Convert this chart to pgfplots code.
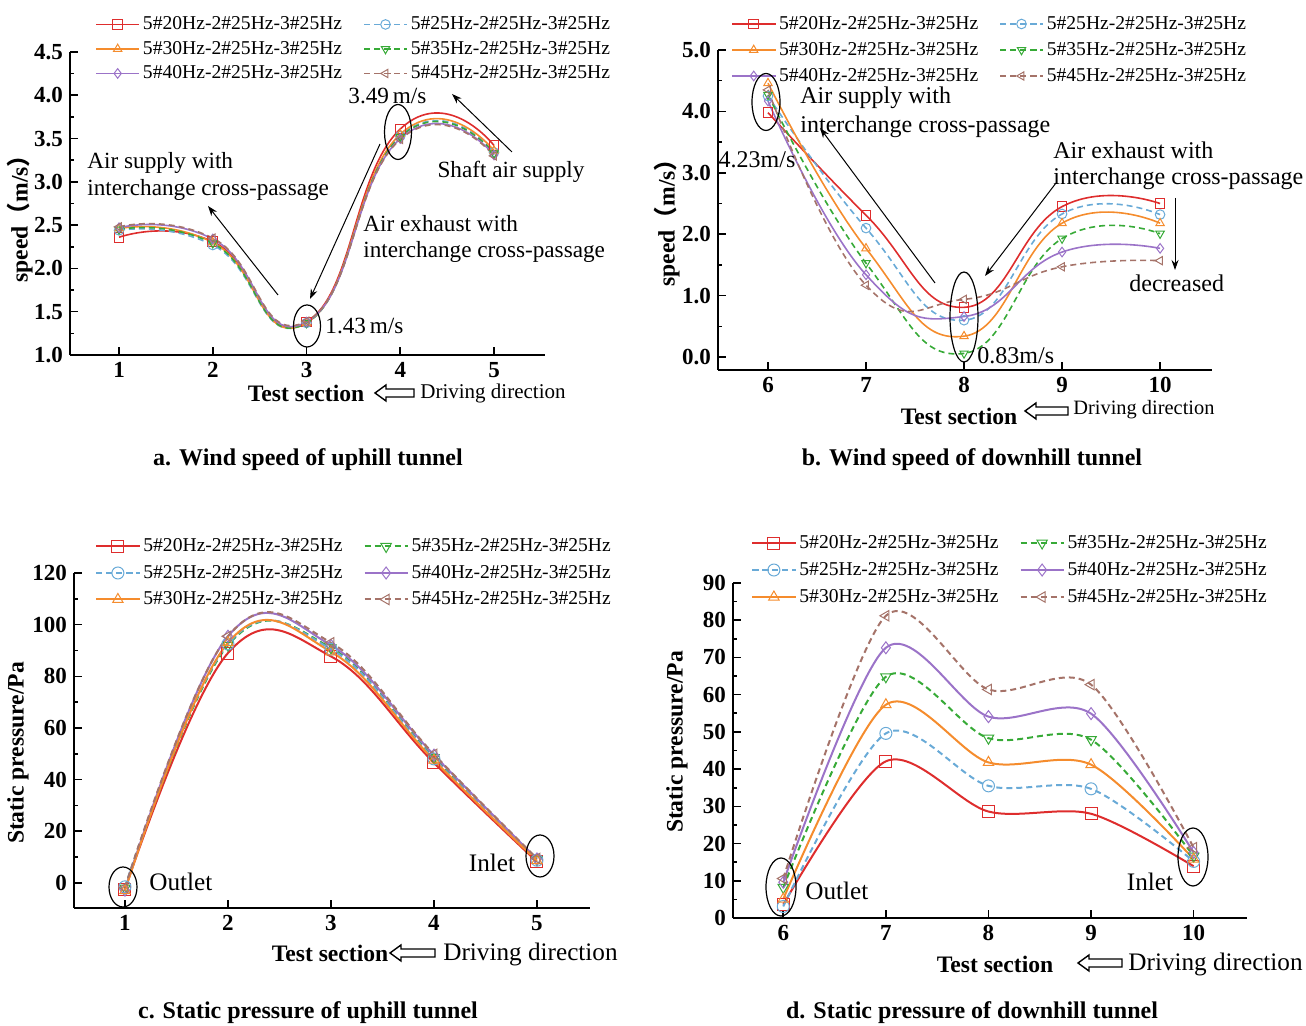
\documentclass[border=0pt]{standalone}
\usepackage{fontspec}
\setmainfont{Liberation Serif}
\newfontfamily\cjk{Noto Sans CJK SC}
\usepackage{pgfplots}
\pgfplotsset{compat=1.18}
\usetikzlibrary{arrows.meta}
\definecolor{cR}{RGB}{222,45,45}
\definecolor{cB}{RGB}{105,170,215}
\definecolor{cO}{RGB}{245,140,45}
\definecolor{cG}{RGB}{55,170,55}
\definecolor{cP}{RGB}{155,115,200}
\definecolor{cN}{RGB}{165,115,105}
\newcommand\tickf{\bfseries\fontsize{11.5}{12}\selectfont}
\newcommand\legf{\fontsize{9.8}{11}\selectfont}
\newcommand\annA{\fontsize{11.6}{13}\selectfont}
\newcommand\annB{\fontsize{12}{13}\selectfont}
\newcommand\annC{\fontsize{12.6}{14}\selectfont}
\newcommand\labf{\bfseries\fontsize{11.8}{13}\selectfont}
\newcommand\capf{\bfseries\fontsize{12}{13}\selectfont}
\pgfplotsset{
  myax/.style={scale only axis, anchor=south west, axis lines=left,
    axis line style={-, line width=0.9pt},
    tick style={line width=0.8pt, black}, major tick length=4pt, minor tick length=2pt,
    tick align=inside, minor y tick num=1, clip=false,
    ticklabel style={font=\tickf}, /pgf/number format/assume math mode=true,
    legend columns=2, legend cell align=left,
    legend style={draw=none, fill=none, font=\legf, anchor=west, inner sep=0pt,
      nodes={inner sep=1.5pt, text height=7pt, text depth=1.5pt},
      /tikz/every even column/.append style={column sep=9pt}},
    legend image code/.code={\draw[mark repeat=2,mark phase=2] plot coordinates {(0pt,0pt)(10.75pt,0pt)(21.5pt,0pt)};},
  },
  s20/.style={color=cR, solid, mark=square, mark options={solid, fill=white, line width=0.5pt}},
  s25/.style={color=cB, dash pattern=on 3pt off 2pt, mark=o, mark options={solid, fill=white, line width=0.5pt}},
  s30/.style={color=cO, solid, mark=triangle, mark options={solid, fill=white, line width=0.5pt}},
  s35/.style={color=cG, dash pattern=on 3pt off 2pt, mark=triangle, mark options={solid, fill=white, line width=0.5pt, rotate=180}},
  s40/.style={color=cP, solid, mark=diamond, mark options={solid, fill=white, line width=0.5pt}},
  s45/.style={color=cN, dash pattern=on 3pt off 2pt, mark=triangle, mark options={solid, fill=white, line width=0.5pt, rotate=90}},
}
\newcommand{\harrow}[3]{\draw[line width=0.7pt] (#1,{1026-(#3)}) -- ({#1+11},{1026-(#3)+8}) -- ({#1+11},{1026-(#3)+4}) -- (#2,{1026-(#3)+4}) -- (#2,{1026-(#3)-4}) -- ({#1+11},{1026-(#3)-4}) -- ({#1+11},{1026-(#3)-8}) -- cycle;}
\begin{document}
\begin{tikzpicture}
\useasboundingbox (0,0) rectangle (653pt,513pt);
% ---------------- panel a
\begin{axis}[myax, at={(35pt,335.5pt)}, width=237.5pt, height=151.5pt,
  xmin=0.477, xmax=5.544, ymin=1, ymax=4.5, xtick={1,2,3,4,5}, ytick={1,1.5,2,2.5,3,3.5,4,4.5},
  yticklabel style={/pgf/number format/.cd, fixed, fixed zerofill, precision=1},
  legend style={at={(axis description cs:0.0526,1.01)}, row sep=0.75pt},
  every axis plot/.append style={smooth, tension=0.9, line width=0.8pt, mark size=2.4pt}]
\addplot[s20] coordinates {(1,2.36)(2,2.31)(3,1.38)(4,3.61)(5,3.42)};
\addlegendentry{5\#20Hz-2\#25Hz-3\#25Hz}
\addplot[s25] coordinates {(1,2.44)(2,2.27)(3,1.37)(4,3.53)(5,3.34)};
\addlegendentry{5\#25Hz-2\#25Hz-3\#25Hz}
\addplot[s30] coordinates {(1,2.46)(2,2.30)(3,1.37)(4,3.55)(5,3.36)};
\addlegendentry{5\#30Hz-2\#25Hz-3\#25Hz}
\addplot[s35] coordinates {(1,2.45)(2,2.29)(3,1.37)(4,3.52)(5,3.33)};
\addlegendentry{5\#35Hz-2\#25Hz-3\#25Hz}
\addplot[s40] coordinates {(1,2.47)(2,2.34)(3,1.38)(4,3.50)(5,3.31)};
\addlegendentry{5\#40Hz-2\#25Hz-3\#25Hz}
\addplot[s45] coordinates {(1,2.48)(2,2.35)(3,1.39)(4,3.49)(5,3.30)};
\addlegendentry{5\#45Hz-2\#25Hz-3\#25Hz}
\end{axis}
% ---------------- panel b
\begin{axis}[myax, at={(359pt,328pt)}, width=247pt, height=160pt,
  xmin=5.49, xmax=10.53, ymin=-0.21, ymax=5, xtick={6,7,8,9,10}, ytick={0,1,2,3,4,5},
  yticklabel style={/pgf/number format/.cd, fixed, fixed zerofill, precision=1},
  legend style={at={(axis description cs:0.0263,1.0)}, row sep=1.5pt},
  every axis plot/.append style={smooth, tension=0.8, line width=0.8pt, mark size=2.4pt}]
\addplot[s20] coordinates {(6,3.98)(7,2.31)(8,0.81)(9,2.45)(10,2.50)};
\addlegendentry{5\#20Hz-2\#25Hz-3\#25Hz}
\addplot[s25] coordinates {(6,4.25)(7,2.10)(8,0.60)(9,2.33)(10,2.32)};
\addlegendentry{5\#25Hz-2\#25Hz-3\#25Hz}
\addplot[s30] coordinates {(6,4.46)(7,1.77)(8,0.34)(9,2.18)(10,2.18)};
\addlegendentry{5\#30Hz-2\#25Hz-3\#25Hz}
\addplot[s35] coordinates {(6,4.27)(7,1.53)(8,0.06)(9,1.93)(10,2.01)};
\addlegendentry{5\#35Hz-2\#25Hz-3\#25Hz}
\addplot[s40] coordinates {(6,4.17)(7,1.34)(8,0.66)(9,1.71)(10,1.77)};
\addlegendentry{5\#40Hz-2\#25Hz-3\#25Hz}
\addplot[s45] coordinates {(6,4.35)(7,1.17)(8,0.94)(9,1.47)(10,1.57)};
\addlegendentry{5\#45Hz-2\#25Hz-3\#25Hz}
\end{axis}
% ---------------- panel c
\begin{axis}[myax, at={(37pt,59pt)}, width=258pt, height=167.5pt,
  xmin=0.505, xmax=5.515, ymin=-9.7, ymax=120, xtick={1,2,3,4,5}, ytick={0,20,40,60,80,100,120},
  legend style={at={(axis description cs:0.0407,1.0)}, row sep=1.75pt},
  every axis plot/.append style={smooth, tension=0.68, line width=1pt, mark size=3pt}]
\addplot[s20] coordinates {(1,-2.5)(2,89.0)(3,87.7)(4,46.5)(5,8.2)};
\addlegendentry{5\#20Hz-2\#25Hz-3\#25Hz}
\addplot[s35] coordinates {(1,-2.0)(2,92.0)(3,91.0)(4,48.5)(5,9.0)};
\addlegendentry{5\#35Hz-2\#25Hz-3\#25Hz}
\addplot[s25] coordinates {(1,-1.5)(2,92.5)(3,90.5)(4,48.0)(5,8.8)};
\addlegendentry{5\#25Hz-2\#25Hz-3\#25Hz}
\addplot[s40] coordinates {(1,-2.8)(2,95.5)(3,92.0)(4,49.5)(5,9.3)};
\addlegendentry{5\#40Hz-2\#25Hz-3\#25Hz}
\addplot[s30] coordinates {(1,-3.0)(2,93.0)(3,89.5)(4,47.5)(5,8.6)};
\addlegendentry{5\#30Hz-2\#25Hz-3\#25Hz}
\addplot[s45] coordinates {(1,-1.8)(2,95.5)(3,93.0)(4,49.8)(5,9.5)};
\addlegendentry{5\#45Hz-2\#25Hz-3\#25Hz}
\end{axis}
% ---------------- panel d
\begin{axis}[myax, at={(366.5pt,54pt)}, width=257pt, height=167.5pt,
  xmin=5.51, xmax=10.52, ymin=0, ymax=90, xtick={6,7,8,9,10}, ytick={0,10,20,30,40,50,60,70,80,90},
  legend style={at={(axis description cs:0.035,1.0388)}, row sep=2pt},
  every axis plot/.append style={smooth, line width=1pt, mark size=3pt}]
\addplot[s20] coordinates {(6,3.6)(7,42.1)(8,28.6)(9,28.0)(10,13.9)};
\addlegendentry{5\#20Hz-2\#25Hz-3\#25Hz}
\addplot[s35] coordinates {(6,8.2)(7,64.8)(8,48.3)(9,47.9)(10,16.6)};
\addlegendentry{5\#35Hz-2\#25Hz-3\#25Hz}
\addplot[s25] coordinates {(6,3.1)(7,49.6)(8,35.5)(9,34.7)(10,15.2)};
\addlegendentry{5\#25Hz-2\#25Hz-3\#25Hz}
\addplot[s40] coordinates {(6,9.6)(7,72.6)(8,54.1)(9,54.9)(10,17.6)};
\addlegendentry{5\#40Hz-2\#25Hz-3\#25Hz}
\addplot[s30] coordinates {(6,5.1)(7,57.3)(8,41.8)(9,41.2)(10,15.8)};
\addlegendentry{5\#30Hz-2\#25Hz-3\#25Hz}
\addplot[s45] coordinates {(6,10.6)(7,81.2)(8,61.4)(9,62.7)(10,18.9)};
\addlegendentry{5\#45Hz-2\#25Hz-3\#25Hz}
\end{axis}
% ---------------- annotations (pixel coordinates, y from top)
\begin{scope}[x=0.5pt,y=0.5pt]
\tikzset{ann/.style={-{Stealth[length=5pt,width=3.5pt]}, line width=0.5pt}, ell/.style={line width=0.6pt}}
% panel a
\node[font=\annA, anchor=west, inner sep=0pt] at (87,{1026-163}) {Air supply with};
\node[font=\annA, anchor=west, inner sep=0pt] at (87,{1026-190}) {interchange cross-passage};
\node[font=\annA, anchor=west, inner sep=0pt] at (363,{1026-224}) {Air exhaust with};
\node[font=\annA, anchor=west, inner sep=0pt] at (363,{1026-252}) {interchange cross-passage};
\node[font=\annA, inner sep=0pt] at (511,{1026-172}) {Shaft air supply};
\node[font=\annA, anchor=west, inner sep=0pt] at (348,{1026-96}) {3.49\,m/s};
\node[font=\annA, anchor=west, inner sep=0pt] at (325,{1026-326}) {1.43\,m/s};
\draw[ann] (278,{1026-295}) -- (208,{1026-206});
\draw[ann] (380,{1026-144}) -- (310,{1026-299});
\draw[ann] (512,{1026-152}) -- (452,{1026-94});
\draw[ell] (398,{1026-132}) ellipse [x radius=6.75pt, y radius=13.75pt];
\draw[ell] (307,{1026-326}) ellipse [x radius=6.75pt, y radius=10.5pt];
\node[font=\labf, rotate=90] at (20,{1026-213}) {speed{\cjk （}m/s{\cjk ）}};
\node[font=\labf] at (306,{1026-393}) {Test section};
\harrow{375}{414}{393}
\node[font=\fontsize{10.5}{12}\selectfont, anchor=west, inner sep=0pt] at (420,{1026-393}) {Driving direction};
\node[font=\capf] at (308,{1026-460}) {a. Wind speed of uphill tunnel};
% panel b
\node[font=\annB, anchor=west, inner sep=0pt] at (800,{1026-98}) {Air supply with};
\node[font=\annB, anchor=west, inner sep=0pt] at (800,{1026-127}) {interchange cross-passage};
\node[font=\annB, anchor=west, inner sep=0pt] at (1053,{1026-150}) {Air exhaust with};
\node[font=\annB, anchor=west, inner sep=0pt] at (1053,{1026-179}) {interchange cross-passage};
\node[font=\annB, inner sep=0pt] at (757,{1026-160}) {4.23m/s};
\node[font=\annB, anchor=west, inner sep=0pt] at (977,{1026-356}) {0.83m/s};
\node[font=\annB, anchor=west, inner sep=0pt] at (1129,{1026-283}) {decreased};
\draw[ann] (935,{1026-283}) -- (820,{1026-128});
\draw[ann] (1056,{1026-183}) -- (985,{1026-276});
\draw[ann] (1175,{1026-198}) -- (1175,{1026-270});
\draw[ell] (766,{1026-102}) ellipse [x radius=7pt, y radius=14.25pt];
\draw[ell] (964,{1026-317}) ellipse [x radius=7pt, y radius=22.5pt];
\node[font=\labf, rotate=90] at (667,{1026-217}) {speed{\cjk （}m/s{\cjk ）}};
\node[font=\labf] at (959,{1026-416}) {Test section};
\harrow{1025}{1068}{411}
\node[font=\fontsize{10.2}{12}\selectfont, anchor=west, inner sep=0pt] at (1073,{1026-410}) {Driving direction};
\node[font=\capf] at (972,{1026-460}) {b. Wind speed of downhill tunnel};
% panel c
\draw[ell] (123,{1026-887}) ellipse [x radius=7pt, y radius=10pt];
\draw[ell] (540,{1026-856}) ellipse [x radius=7pt, y radius=10.5pt];
\node[font=\annC, anchor=west, inner sep=0pt] at (149,{1026-882}) {Outlet};
\node[font=\annC, inner sep=0pt] at (492,{1026-863}) {Inlet};
\node[font=\labf, rotate=90] at (18,{1026-753}) {Static pressure/Pa};
\node[font=\labf] at (330,{1026-953}) {Test section};
\harrow{390}{435}{953}
\node[font=\annC, anchor=west, inner sep=0pt] at (443,{1026-954}) {Driving direction};
\node[font=\capf] at (308,{1026-1013}) {c. Static pressure of uphill tunnel};
% panel d
\draw[ell] (781,{1026-887}) ellipse [x radius=7.5pt, y radius=14.5pt];
\draw[ell] (1193,{1026-857}) ellipse [x radius=7.5pt, y radius=14.5pt];
\node[font=\annC, anchor=west, inner sep=0pt] at (805,{1026-891}) {Outlet};
\node[font=\annC, inner sep=0pt] at (1150,{1026-882}) {Inlet};
\node[font=\labf, rotate=90] at (677,{1026-742}) {Static pressure/Pa};
\node[font=\labf] at (995,{1026-964}) {Test section};
\harrow{1078}{1122}{963}
\node[font=\annC, anchor=west, inner sep=0pt] at (1128,{1026-964}) {Driving direction};
\node[font=\capf] at (972,{1026-1013}) {d. Static pressure of downhill tunnel};
\end{scope}
\end{tikzpicture}
\end{document}
